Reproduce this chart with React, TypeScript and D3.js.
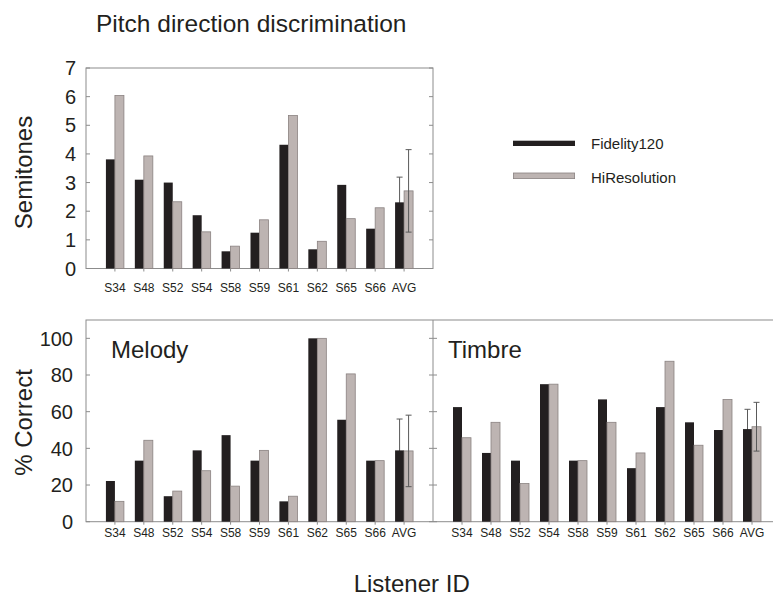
import * as d3 from "d3";

// listener ids and values
const listeners = ["S34", "S48", "S52", "S54", "S58", "S59", "S61", "S62", "S65", "S66", "AVG"];

const pitchFidelity = [3.81, 3.1, 3.0, 1.86, 0.6, 1.25, 4.32, 0.67, 2.92, 1.39, 2.31];
const pitchHiRes = [6.04, 3.93, 2.33, 1.28, 0.78, 1.7, 5.34, 0.95, 1.74, 2.12, 2.71];
const pitchErr = [0.88, 1.44]; // AVG only: Fidelity120, HiResolution

const melodyFidelity = [22.2, 33.3, 13.9, 38.9, 47.2, 33.3, 11.1, 100, 55.6, 33.3, 38.9];
const melodyHiRes = [11.1, 44.4, 16.7, 27.8, 19.4, 38.9, 13.9, 100, 80.6, 33.3, 38.6];
const melodyErr = [17.1, 19.5];

const timbreFidelity = [62.5, 37.5, 33.3, 75, 33.3, 66.7, 29.2, 62.5, 54.2, 50, 50.5];
const timbreHiRes = [45.8, 54.2, 20.8, 75, 33.3, 54.2, 37.5, 87.5, 41.7, 66.7, 51.8];
const timbreErr = [10.8, 13.3];

const pitchTicks = [0, 1, 2, 3, 4, 5, 6, 7];
const percentTicks = [0, 20, 40, 60, 80, 100];

const seriesNames = ["Fidelity120", "HiResolution"];

const FONT = "'Liberation Sans', Arial, Helvetica, sans-serif";
const DARK = "#231f20";
const LIGHT = "#bdb4b2";
const LIGHT_EDGE = "#8a8281";
const FRAME = "#8c8c8c";
const TEXT = "#231f20";
const ERR = "#5a5a5a";
const BAR_W = 9;

type PanelProps = {
  x0: number;
  x1: number;
  y: d3.ScaleLinear<number, number>;
  fid: number[];
  hi: number[];
  err: number[];
  labelY: number;
};

const Bars = ({ x0, x1, y, fid, hi, err, labelY }: PanelProps) => {
  const x = d3.scalePoint<string>().domain(listeners).range([x0, x1]).padding(1);
  const last = listeners[listeners.length - 1];
  const cx = x(last) as number;
  const errBar = (px: number, v: number, e: number) => (
    <g stroke={ERR} strokeWidth={1}>
      <line x1={px} x2={px} y1={y(v + e)} y2={y(v - e)} />
      <line x1={px - 3} x2={px + 3} y1={y(v + e)} y2={y(v + e)} />
      <line x1={px - 3} x2={px + 3} y1={y(v - e)} y2={y(v - e)} />
    </g>
  );
  const n = listeners.length - 1;
  return (
    <g>
      {errBar(cx - BAR_W / 2, fid[n], err[0])}
      {listeners.map((id, i) => {
        const c = x(id) as number;
        return (
          <g key={id}>
            <rect x={c - BAR_W} y={y(fid[i])} width={BAR_W} height={y(0) - y(fid[i])} fill={DARK} />
            <rect
              x={c}
              y={y(hi[i])}
              width={BAR_W}
              height={y(0) - y(hi[i])}
              fill={LIGHT}
              stroke={LIGHT_EDGE}
              strokeWidth={0.8}
            />
            <line x1={c} x2={c} y1={y(0)} y2={y(0) + 3} stroke={FRAME} />
            <text x={c} y={labelY} textAnchor="middle" fontSize={12} fill={TEXT}>
              {id}
            </text>
          </g>
        );
      })}
      {errBar(cx + BAR_W / 2, hi[n], err[1])}
    </g>
  );
};

const App = () => {
  const W = 773;
  const H = 601;

  const left = 86;
  const mid = 433;
  const right = 781;

  const yTop = d3.scaleLinear().domain([0, 7]).range([268.5, 68]);
  const yBot = d3.scaleLinear().domain([0, 110]).range([521.7, 320]);

  return (
    <svg
      width={W}
      height={H}
      style={{ position: "absolute", left: 0, top: 0, background: "#fff" }}
      fontFamily={FONT}
    >
      <text x={96} y={31.5} fontSize={24.5} fill={TEXT}>
        Pitch direction discrimination
      </text>

      {/* top panel */}
      <rect x={left} y={yTop(7)} width={mid - left} height={yTop(0) - yTop(7)} fill="none" stroke={FRAME} />
      {pitchTicks.map((t) => (
        <g key={t}>
          <line x1={left} x2={left + 4} y1={yTop(t)} y2={yTop(t)} stroke={FRAME} />
          <line x1={mid - 4} x2={mid} y1={yTop(t)} y2={yTop(t)} stroke={FRAME} />
          <text x={left - 10} y={yTop(t)} dy="0.36em" textAnchor="end" fontSize={20} fill={TEXT}>
            {t}
          </text>
        </g>
      ))}
      <Bars x0={left} x1={mid} y={yTop} fid={pitchFidelity} hi={pitchHiRes} err={pitchErr} labelY={292.3} />
      <text transform={`translate(31.5,172.5) rotate(-90)`} textAnchor="middle" fontSize={24} fill={TEXT}>
        Semitones
      </text>

      {/* legend */}
      <rect x={513} y={140.7} width={62} height={5.3} fill={DARK} />
      <rect x={513.4} y={173} width={61.2} height={5.6} fill={LIGHT} stroke={LIGHT_EDGE} strokeWidth={0.8} />
      <text x={591} y={149} fontSize={15} fill={TEXT}>
        {seriesNames[0]}
      </text>
      <text x={591} y={182.5} fontSize={15} fill={TEXT}>
        {seriesNames[1]}
      </text>

      {/* bottom panels */}
      <rect x={left} y={yBot(110)} width={right - left} height={yBot(0) - yBot(110)} fill="none" stroke={FRAME} />
      <line x1={mid} x2={mid} y1={yBot(110)} y2={yBot(0)} stroke={FRAME} />
      {percentTicks.map((t) => (
        <g key={t}>
          <line x1={left} x2={left + 4} y1={yBot(t)} y2={yBot(t)} stroke={FRAME} />
          <line x1={mid - 4} x2={mid + 4} y1={yBot(t)} y2={yBot(t)} stroke={FRAME} />
          <text x={left - 13} y={yBot(t)} dy="0.36em" textAnchor="end" fontSize={20} fill={TEXT}>
            {t}
          </text>
        </g>
      ))}
      <Bars x0={left} x1={mid} y={yBot} fid={melodyFidelity} hi={melodyHiRes} err={melodyErr} labelY={536.7} />
      <Bars x0={mid} x1={right} y={yBot} fid={timbreFidelity} hi={timbreHiRes} err={timbreErr} labelY={536.7} />
      <text x={111} y={358.3} fontSize={24} fill={TEXT}>
        Melody
      </text>
      <text x={448} y={358.3} fontSize={24} fill={TEXT}>
        Timbre
      </text>
      <text transform={`translate(31.5,422.5) rotate(-90)`} textAnchor="middle" fontSize={24} fill={TEXT}>
        % Correct
      </text>

      <text x={411.7} y={591.7} textAnchor="middle" fontSize={24} fill={TEXT}>
        Listener ID
      </text>
    </svg>
  );
};

export default App;
